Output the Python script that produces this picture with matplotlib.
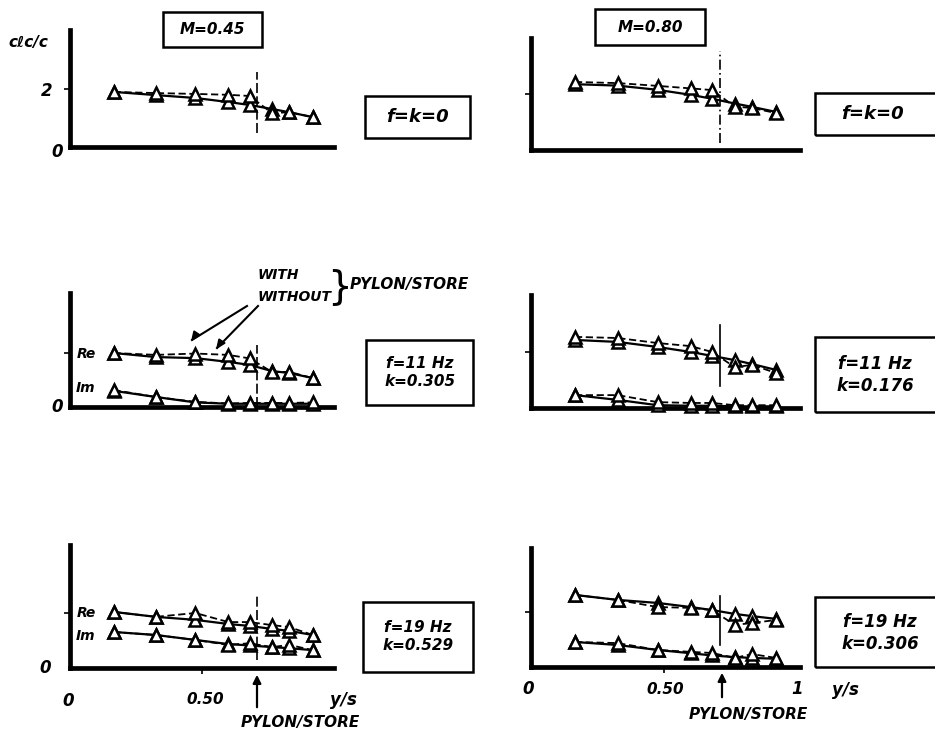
import matplotlib
matplotlib.use("Agg")
import matplotlib.pyplot as plt
from matplotlib.patches import Rectangle, Polygon, FancyArrowPatch
from matplotlib.lines import Line2D

# ---- data -------------------------------------------------------------
y_over_s = [0.165, 0.325, 0.475, 0.60, 0.68, 0.765, 0.83, 0.92]
pylon_station = 0.71

# steady case  f = k = 0
m45_steady_with = [1.90, 1.86, 1.83, 1.80, 1.76, 1.17, 1.20, 1.03]
m45_steady_without = [1.90, 1.79, 1.69, 1.55, 1.45, 1.31, 1.20, 1.03]
m80_steady_with = [2.43, 2.39, 2.29, 2.20, 2.14, 1.55, 1.50, 1.32]
m80_steady_without = [2.35, 2.30, 2.15, 1.97, 1.83, 1.66, 1.54, 1.36]

# f = 11 Hz
m45_f11_re_with = [2.00, 1.93, 1.98, 1.93, 1.80, 1.30, 1.30, 1.07]
m45_f11_re_without = [2.00, 1.85, 1.81, 1.67, 1.56, 1.33, 1.26, 1.07]
m45_f11_im_with = [0.63, 0.37, 0.19, 0.13, 0.15, 0.15, 0.15, 0.17]
m45_f11_im_without = [0.60, 0.37, 0.17, 0.12, 0.12, 0.12, 0.12, 0.12]
m80_f11_re_with = [2.54, 2.50, 2.32, 2.21, 2.00, 1.46, 1.54, 1.25]
m80_f11_re_without = [2.43, 2.36, 2.18, 2.00, 1.86, 1.71, 1.57, 1.36]
m80_f11_im_with = [0.46, 0.46, 0.21, 0.18, 0.18, 0.10, 0.10, 0.10]
m80_f11_im_without = [0.46, 0.29, 0.10, 0.08, 0.08, 0.06, 0.06, 0.06]

# f = 19 Hz
m45_f19_re_with = [2.04, 1.86, 2.00, 1.67, 1.67, 1.56, 1.49, 1.20]
m45_f19_re_without = [2.04, 1.86, 1.75, 1.60, 1.53, 1.42, 1.35, 1.20]
m45_f19_im_with = [1.31, 1.20, 1.02, 0.84, 0.90, 0.76, 0.84, 0.65]
m45_f19_im_without = [1.31, 1.20, 1.02, 0.87, 0.82, 0.76, 0.72, 0.65]
m80_f19_re_with = [2.62, 2.44, 2.18, 2.15, 2.07, 1.53, 1.60, 1.71]
m80_f19_re_without = [2.62, 2.44, 2.33, 2.18, 2.07, 1.93, 1.85, 1.75]
m80_f19_im_with = [0.91, 0.87, 0.62, 0.55, 0.51, 0.33, 0.47, 0.33]
m80_f19_im_without = [0.91, 0.80, 0.62, 0.50, 0.42, 0.36, 0.33, 0.30]

mach_labels = ["M=0.45", "M=0.80"]
steady_label = "f=k=0"
f11_labels = ["f=11 Hz\nk=0.305", "f=11 Hz\nk=0.176"]
f19_labels = ["f=19 Hz\nk=0.529", "f=19 Hz\nk=0.306"]
x_tick_labels = ["0", "0.50", "1"]

# ---- figure -----------------------------------------------------------
W, H = 935, 741
fig = plt.figure(figsize=(W / 100, H / 100), dpi=100)
fig.patch.set_facecolor("white")

FONT = dict(family="DejaVu Sans", weight="bold", style="italic", color="black")


def fx(px):
    return px / W


def fy(py):
    return 1 - py / H


def ftext(px, py, s, size=11, ha="center", va="center"):
    fig.text(fx(px), fy(py), s, fontsize=size, ha=ha, va=va,
             linespacing=1.25, **FONT)


def fbox(x0, y0, x1, y1):
    fig.patches.append(Rectangle((fx(x0), fy(y1)), (x1 - x0) / W,
                                 (y1 - y0) / H, transform=fig.transFigure,
                                 fill=False, lw=1.8, ec="black",
                                 clip_on=False))


def panel(left, right, top, bottom, tick_y, xmax, bottom_row=False):
    ax = fig.add_axes([fx(left), fy(bottom), (right - left) / W,
                       (bottom - top) / H])
    ymax = 2.0 * (bottom - top) / (bottom - tick_y)
    ax.set_xlim(0, xmax)
    ax.set_ylim(0, ymax)
    ax.patch.set_visible(False)
    for s in ("top", "right"):
        ax.spines[s].set_visible(False)
    for s in ("left", "bottom"):
        ax.spines[s].set_linewidth(3.4)
        ax.spines[s].set_capstyle("projecting")
    ax.set_yticks([2.0])
    ax.set_yticklabels([])
    ax.set_xticks([0.5] if bottom_row else [])
    ax.set_xticklabels([])
    ax.tick_params(direction="out", length=4, width=1.2)
    return ax


def curves(ax, with_vals, without_vals):
    ax.plot(y_over_s, without_vals, "-", color="black", lw=1.6,
            marker="^", ms=9, mfc="white", mec="black", mew=1.8,
            clip_on=False, zorder=3)
    ax.plot(y_over_s, with_vals, color="black", lw=1.3, ls=(0, (4, 2)),
            marker="^", ms=9, mfc="white", mec="black", mew=1.8,
            clip_on=False, zorder=4)


def pylon(ax, y0, y1, style):
    ax.plot([pylon_station, pylon_station], [y0, y1], color="black",
            lw=1.2, ls=style, clip_on=False, zorder=2)


# panel frames in pixel units: left, right, top, bottom, y of the "2" tick
L_COL = (70, 334)
R_COL = (531, 800)

ax_tl = panel(*L_COL, 30, 147, 89, 1.0)
ax_tr = panel(*R_COL, 38, 150, 94, 1.01)
ax_ml = panel(*L_COL, 293, 407, 353, 1.0)
ax_mr = panel(*R_COL, 295, 408, 352, 1.01)
ax_bl = panel(*L_COL, 545, 668, 613, 1.0, bottom_row=True)
ax_br = panel(*R_COL, 548, 667, 612, 1.01, bottom_row=True)

curves(ax_tl, m45_steady_with, m45_steady_without)
curves(ax_tr, m80_steady_with, m80_steady_without)
curves(ax_ml, m45_f11_re_with, m45_f11_re_without)
curves(ax_ml, m45_f11_im_with, m45_f11_im_without)
curves(ax_mr, m80_f11_re_with, m80_f11_re_without)
curves(ax_mr, m80_f11_im_with, m80_f11_im_without)
curves(ax_bl, m45_f19_re_with, m45_f19_re_without)
curves(ax_bl, m45_f19_im_with, m45_f19_im_without)
curves(ax_br, m80_f19_re_with, m80_f19_re_without)
curves(ax_br, m80_f19_im_with, m80_f19_im_without)

pylon(ax_tl, 0.48, 2.6, (0, (6, 2)))
pylon(ax_tr, 0.25, 3.55, (0, (6, 2, 1, 2)))
pylon(ax_ml, 0.0, 2.3, (0, (6, 2)))
pylon(ax_mr, 0.8, 2.95, "-")
pylon(ax_bl, 0.3, 2.65, (0, (6, 2)))
pylon(ax_br, 0.8, 2.6, "-")

# ---- annotations -------------------------------------------------------
ftext(28, 42, "cℓc/c", size=11)
ftext(47, 91, "2", size=12)
ftext(57, 152, "0", size=12)
ftext(57, 407, "0", size=12)
ftext(45, 668, "0", size=12)

fbox(163, 12, 262, 47)
ftext(212, 29, mach_labels[0], size=11)
fbox(595, 9, 705, 45)
ftext(650, 27, mach_labels[1], size=11)

fbox(365, 96, 470, 138)
ftext(417, 117, steady_label, size=13)
fbox(815, 93, 960, 135)
ftext(872, 114, steady_label, size=13)

fbox(366, 340, 473, 405)
ftext(420, 372, f11_labels[0], size=11)
fbox(815, 337, 960, 412)
ftext(875, 375, f11_labels[1], size=12)

fbox(363, 602, 473, 672)
ftext(418, 637, f19_labels[0], size=11)
fbox(815, 597, 960, 667)
ftext(880, 633, f19_labels[1], size=12)

for py_re, py_im in ((354, 388), (613, 636)):
    ftext(86, py_re, "Re", size=10)
    ftext(86, py_im, "Im", size=10)

# callouts naming the two configurations
ftext(258, 275, "WITH", size=10, ha="left")
ftext(258, 297, "WITHOUT", size=10, ha="left")
fig.text(fx(339), fy(287), "}", fontsize=28, ha="center", va="center",
         family="DejaVu Sans", color="black")
ftext(350, 284, "PYLON/STORE", size=11, ha="left")
for (x0, y0), (x1, y1) in (((247, 306), (192, 340)), ((258, 306), (217, 348))):
    fig.lines.append(Line2D([fx(x0), fx(x1)], [fy(y0), fy(y1)],
                            transform=fig.transFigure, color="black", lw=1.5))
    fig.patches.append(Polygon([(fx(x1), fy(y1)), (fx(x1 + 2), fy(y1 - 9)),
                                (fx(x1 + 8), fy(y1 - 5))], closed=True,
                               transform=fig.transFigure, fc="black",
                               ec="black"))

# x-axis labels under the bottom row
ftext(68, 701, x_tick_labels[0], size=12)
ftext(205, 700, x_tick_labels[1], size=11)
ftext(343, 700, "y/s", size=12)
ftext(528, 689, x_tick_labels[0], size=12)
ftext(665, 689, x_tick_labels[1], size=11)
ftext(797, 689, x_tick_labels[2], size=12)
ftext(845, 690, "y/s", size=12)

ftext(300, 722, "PYLON/STORE", size=11)
ftext(748, 715, "PYLON/STORE", size=11)
for px, y_tail, y_head in ((257, 710, 672), (722, 700, 670)):
    fig.patches.append(FancyArrowPatch(
        (fx(px), fy(y_tail)), (fx(px), fy(y_head)),
        transform=fig.transFigure, arrowstyle="-|>", mutation_scale=12,
        lw=1.6, color="black"))

fig.savefig("out.png", dpi=100, facecolor="white")
